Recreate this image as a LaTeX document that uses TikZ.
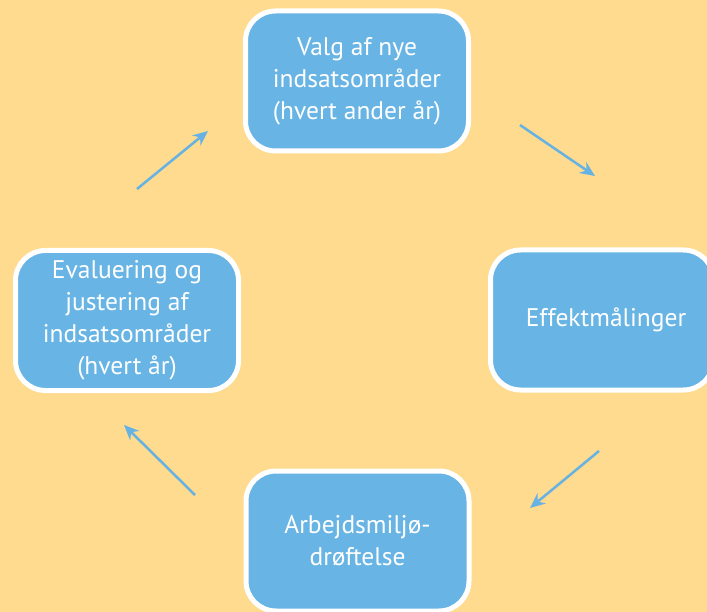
\documentclass[tikz,border=0pt]{standalone}
\usepackage{fontspec}
\setmainfont{PT Sans}
\usetikzlibrary{arrows.meta,calc}
\definecolor{BackClr}{RGB}{254,219,143}
\definecolor{BoxClr}{RGB}{104,180,228}
\definecolor{ArrowClr}{RGB}{102,178,226}

\begin{document}
\begin{tikzpicture}[x=1pt,y=-1pt,
  stepbox/.style={draw=white,line width=5pt,fill=BoxClr,rounded corners=30pt,
    minimum width=223pt,minimum height=140pt,align=center,text=white,
    font=\fontsize{25.5}{32}\selectfont},
  flow/.style={draw=ArrowClr,line width=2.5pt,-{Stealth[length=15pt,width=13pt]}}]
\useasboundingbox (0,0) rectangle (707,612);
\clip (0,0) rectangle (707,612);
\fill[BackClr] (0,0) rectangle (707,612);

\node[stepbox] (valg) at (357,81) {Valg af nye\\indsatsområder\\(hvert ander år)};
\node[stepbox] (effekt) at (602,320) {\hspace*{8pt}Effektmålinger};
\node[stepbox] (drof) at (357.5,541) {Arbejdsmiljø-\\drøftelse};
\node[stepbox] (eval) at (127,320.5) {Evaluering og\\justering af\\indsatsområder\\(hvert år)};

\coordinate (a1) at (520,125); \coordinate (b1) at (595,176);
\coordinate (a2) at (599,451); \coordinate (b2) at (530,508);
\coordinate (a3) at (195,495); \coordinate (b3) at (124,425);
\coordinate (a4) at (137,189); \coordinate (b4) at (208,131);

\draw[flow] (a1) -- (b1);
\draw[flow] (a2) -- (b2);
\draw[flow] (a3) -- (b3);
\draw[flow] (a4) -- (b4);

\end{tikzpicture}
\end{document}
